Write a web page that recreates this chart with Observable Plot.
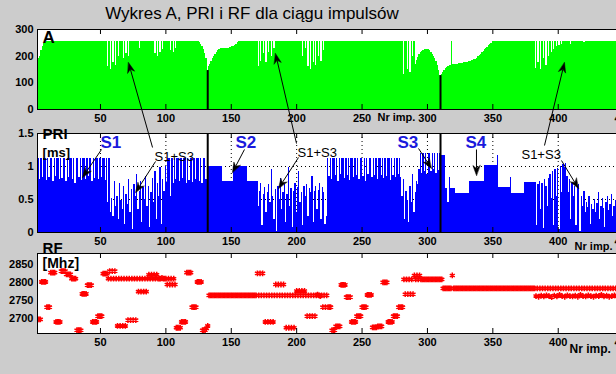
<!DOCTYPE html>
<html><head><meta charset="utf-8">
<script src="https://cdn.jsdelivr.net/npm/d3@7"></script>
<script src="https://cdn.jsdelivr.net/npm/@observablehq/plot@0.6"></script>
<style>
html,body{margin:0;padding:0;background:#cccccc;}
#fig{position:relative;width:616px;height:374px;overflow:hidden;background:#cccccc;}
#fig svg{position:absolute;left:0;display:block;max-width:none !important;}
</style>
</head><body>
<div id="fig"></div>
<script>
// ---------------- DATA ----------------
const titleText = "Wykres A, PRI i RF dla ciągu impulsów";
const pulseNo = d3.range(1, 446); // Nr imp. 1..445
const xTicks = [50,100,150,200,250,300,350,400,450];
const aTicks = [0,100,200,300];
const priTicks = [0,0.5,1,1.5];
const rfTicks = [2700,2750,2800,2850];
const boundaries = [132, 310]; // segment separators (black lines)

const amplitude = [
182,188,192,200,220,238,248,253,255,255,
255,255,255,255,255,255,255,255,255,255,
255,255,255,255,255,255,255,255,255,255,
255,255,255,255,255,255,255,255,255,255,
255,255,255,255,255,255,255,255,255,255,
255,255,255,255,255,160,255,150,255,175,
255,165,255,200,255,255,255,190,255,210,
255,200,255,255,255,255,255,255,255,230,
255,255,255,255,255,255,255,255,255,255,
255,210,255,200,255,215,255,225,255,255,
255,255,255,220,255,215,255,230,255,255,
255,255,255,255,255,255,255,255,255,255,
255,255,255,255,255,252,245,235,225,210,
190,146,160,168,180,192,200,208,215,220,
224,227,228,228,229,229,230,230,232,234,
236,238,240,245,252,255,255,255,255,255,
255,255,255,255,255,255,255,255,255,255,
160,255,180,255,210,255,175,255,215,255,
200,255,230,255,255,255,255,255,255,255,
255,255,255,255,255,255,255,255,255,255,
255,255,255,255,200,255,230,255,160,255,
150,255,175,255,165,255,200,255,180,255,
220,255,255,255,255,255,255,255,255,255,
255,255,255,255,255,255,255,255,255,255,
255,255,255,255,255,255,255,255,255,255,
255,255,255,255,255,255,255,255,255,255,
255,255,255,255,255,255,255,255,255,255,
255,255,255,255,255,255,255,255,255,255,
255,130,255,255,150,255,140,255,200,255,
170,185,195,205,212,217,221,224,226,226,
224,220,213,206,198,190,180,165,148,127,
130,140,148,153,158,162,164,166,255,167,
168,169,170,171,172,173,174,175,176,177,
178,179,180,182,184,186,189,193,197,202,
207,212,218,224,229,234,239,244,249,255,
255,255,255,255,255,255,255,255,255,255,
255,255,255,255,255,255,255,255,255,255,
255,255,255,255,255,255,255,255,255,255,
255,255,155,255,175,255,150,255,190,255,
165,255,200,255,215,255,225,255,235,255,
240,255,245,255,255,255,255,255,255,245,
255,255,255,255,255,255,255,255,255,250,
255,255,255,255,255,255,255,255,255,255,
255,255,255,255,255,255,255,255,255,255,
255,255,255,255,255
];

const pri = [
0.82,1.12,1.12,0.80,1.12,0.84,1.12,1.12,0.79,1.12,
0.83,1.12,1.12,0.78,1.12,0.85,1.12,1.12,0.80,1.12,
0.82,1.12,1.12,0.77,1.12,0.84,1.12,1.12,0.80,1.12,
0.74,1.12,1.12,0.83,1.12,0.79,1.12,1.12,0.81,1.12,
0.85,1.12,1.12,0.78,1.12,0.82,1.12,1.12,0.80,1.12,
0.84,1.12,1.12,0.79,1.12,0.45,1.12,0.30,0.52,0.25,
0.78,0.40,0.55,0.20,0.75,0.48,0.35,0.70,0.12,0.58,
0.42,0.80,0.30,0.65,0.05,0.72,0.55,0.88,0.35,0.62,
0.78,0.15,0.68,0.50,0.85,0.40,0.70,0.08,0.60,0.82,
0.45,0.92,0.20,0.75,0.55,0.98,0.12,0.80,0.62,1.00,
0.76,1.12,1.12,0.55,1.12,0.74,1.12,0.80,1.12,1.12,
0.77,1.12,0.82,1.12,1.12,0.75,1.12,0.79,1.12,1.12,
0.76,1.12,0.81,1.12,1.12,0.78,1.12,0.74,1.12,1.12,
0.80,1.12,1.00,1.00,1.00,1.00,1.00,1.00,1.00,1.00,
1.00,1.00,1.00,0.78,0.78,0.78,0.78,0.78,0.78,0.78,
0.78,1.00,1.00,1.00,1.00,1.00,1.00,1.00,1.00,1.00,
1.00,1.00,0.78,0.78,0.78,0.78,0.78,0.78,0.78,0.78,
0.40,0.62,0.75,0.10,0.58,0.68,0.30,0.60,0.72,0.45,
0.95,0.55,0.20,0.65,0.02,0.70,0.50,0.82,0.35,0.60,
0.72,0.15,0.58,0.98,0.40,0.66,0.08,0.62,0.75,0.30,
0.68,0.92,0.45,0.60,0.10,0.70,0.55,0.72,0.25,0.66,
0.60,0.85,0.15,0.62,0.70,0.35,0.64,0.75,0.20,0.68,
0.60,0.12,0.25,1.12,0.85,1.12,0.80,1.12,1.12,0.86,
1.12,0.78,1.12,0.88,1.12,1.12,0.82,1.12,0.86,1.12,
0.79,1.12,1.12,0.84,1.12,0.87,1.12,0.80,1.12,1.12,
0.85,1.12,0.78,1.12,0.88,1.12,1.12,0.83,1.12,0.86,
1.12,0.80,1.12,1.12,0.87,1.12,0.82,1.12,0.85,1.12,
1.12,0.79,1.12,0.86,1.12,0.83,1.12,0.88,1.12,0.84,
0.55,0.80,0.20,0.62,0.48,0.15,0.70,0.45,0.88,0.30,
0.60,0.78,0.72,0.95,1.19,0.90,1.19,0.93,1.19,0.88,
1.19,1.19,0.92,1.19,0.95,1.19,0.90,1.19,0.94,1.19,
1.16,1.16,1.16,0.66,0.66,0.45,0.84,0.66,0.66,0.66,
0.66,0.59,0.59,0.59,0.59,0.59,0.59,0.59,0.59,0.59,
0.59,0.59,0.77,0.77,0.77,0.77,0.77,0.77,0.77,0.77,
0.77,0.77,0.77,1.01,1.01,1.01,1.01,1.01,1.01,1.01,
1.01,1.01,1.01,1.16,0.68,0.68,0.68,0.68,0.68,0.68,
0.68,0.68,0.68,0.83,0.59,0.59,0.59,0.59,0.59,0.59,
0.59,0.59,0.59,0.59,0.76,0.76,0.76,0.76,0.76,0.76,
0.76,0.76,0.76,0.10,0.72,0.78,0.35,0.74,0.06,0.80,
0.70,0.40,0.82,0.88,0.52,0.92,0.10,0.95,0.55,0.97,
0.05,1.00,0.60,1.03,0.98,1.05,0.85,0.60,0.80,0.20,
0.75,0.55,0.70,0.10,0.68,0.72,0.02,0.55,0.40,0.62,
0.30,0.45,0.38,0.55,0.12,0.42,0.35,0.50,0.30,0.44,
0.60,0.20,0.40,0.52,0.36,0.08,0.46,0.55,0.33,0.42,
0.58,0.25,0.40,0.48,0.35
];

const rf = [
2697,2697,2697,2697,2801,2801,2801,2801,2731,2731,
2731,2827,2827,2827,2827,2690,2690,2690,2690,2831,
2831,2831,2831,2822,2822,2822,2822,2810,2810,2810,
2810,2667,2667,2667,2667,2768,2768,2768,2768,2792,
2792,2792,2792,2690,2690,2690,2690,2706,2706,2706,
2706,2824,2824,2824,2824,2810,2831,2810,2831,2810,
2831,2810,2679,2810,2679,2810,2679,2810,2679,2810,
2695,2810,2695,2810,2695,2810,2695,2810,2774,2810,
2774,2810,2774,2810,2774,2810,2821,2810,2821,2810,
2821,2810,2821,2810,2810,2810,2812,2810,2810,2810,
2794,2810,2794,2810,2794,2810,2794,2674,2674,2674,
2674,2690,2690,2690,2690,2827,2827,2827,2827,2731,
2731,2731,2731,2801,2801,2801,2801,2667,2667,2667,
2672,2679,2764,2764,2764,2764,2764,2764,2764,2764,
2764,2764,2764,2764,2764,2764,2764,2764,2764,2764,
2764,2764,2764,2764,2764,2764,2764,2764,2764,2764,
2764,2764,2764,2764,2764,2764,2764,2764,2764,2825,
2764,2825,2764,2825,2764,2690,2764,2690,2764,2690,
2764,2690,2764,2794,2764,2794,2764,2794,2764,2794,
2764,2674,2764,2674,2764,2674,2764,2674,2764,2776,
2764,2776,2764,2776,2764,2776,2764,2706,2764,2706,
2764,2706,2764,2706,2764,2766,2764,2762,2764,2731,
2764,2731,2764,2731,2731,2731,2667,2667,2667,2678,
2678,2678,2678,2793,2793,2793,2793,2759,2759,2759,
2759,2690,2690,2690,2690,2706,2706,2706,2706,2731,
2731,2731,2731,2765,2765,2765,2765,2675,2675,2675,
2675,2678,2678,2678,2678,2800,2800,2800,2800,2690,
2690,2690,2690,2706,2706,2706,2706,2731,2731,2731,
2731,2808,2767,2808,2767,2808,2767,2808,2767,2819,
2808,2819,2808,2819,2808,2808,2808,2808,2808,2808,
2808,2808,2808,2808,2808,2808,2808,2808,2808,2808,
2808,2783,2783,2783,2783,2783,2783,2783,2819,2783,
2783,2783,2783,2783,2783,2783,2783,2783,2783,2783,
2783,2783,2783,2783,2783,2783,2783,2783,2783,2783,
2783,2783,2783,2783,2783,2783,2783,2783,2783,2783,
2783,2783,2783,2783,2783,2783,2783,2783,2783,2783,
2783,2783,2783,2783,2783,2783,2783,2783,2783,2783,
2783,2783,2783,2783,2783,2783,2783,2783,2783,2783,
2783,2783,2762,2783,2760,2783,2763,2783,2761,2783,
2764,2783,2762,2783,2759,2783,2763,2783,2761,2783,
2765,2783,2762,2783,2760,2783,2764,2783,2762,2783,
2761,2783,2763,2783,2760,2783,2765,2783,2762,2783,
2761,2783,2764,2783,2762,2783,2760,2783,2763,2783,
2762,2783,2765,2783,2761,2783,2763,2783,2760,2783,
2762,2783,2764,2783,2761
];

// ---------------- ANNOTATIONS (in panel data units) ----------------
const labelsA = [
  {text: "A", x: 5.7, y: 300, dy: 1, size: 17, weight: "bold", color: "black"},
  {text: "Nr imp.", x: 261.8, y: 0, dy: 4, size: 11, weight: "bold", color: "black"}
];
const labelsPRI = [
  {text: "PRI", x: 5.7, y: 1.5, dy: -5, size: 15, weight: "bold", color: "black"},
  {text: "[ms]", x: 5.7, y: 1.288, dy: 0, size: 13, weight: "bold", color: "black"},
  {text: "S1", x: 50.0, y: 1.47, dy: 0, size: 17, weight: "bold", color: "#1a1adc"},
  {text: "S2", x: 153.2, y: 1.47, dy: 0, size: 17, weight: "bold", color: "#1a1adc"},
  {text: "S3", x: 277.1, y: 1.47, dy: 0, size: 17, weight: "bold", color: "#1a1adc"},
  {text: "S4", x: 329.1, y: 1.47, dy: 0, size: 17, weight: "bold", color: "#1a1adc"},
  {text: "S1+S3", x: 91.3, y: 1.227, dy: 0, size: 13, weight: "normal", color: "black"},
  {text: "S1+S3", x: 200.7, y: 1.288, dy: 0, size: 13, weight: "normal", color: "black"},
  {text: "S1+S3", x: 371.9, y: 1.258, dy: 0, size: 13, weight: "normal", color: "black"},
  {text: "Nr imp.", x: 412.5, y: 0, dy: 10, size: 11, weight: "bold", color: "black"}
];
const labelsRF = [
  {text: "RF", x: 5.7, y: 2880, dy: -11, size: 15, weight: "bold", color: "black"},
  {text: "[Mhz]", x: 5.7, y: 2866, dy: 0, size: 14, weight: "bold", color: "black"},
  {text: "Nr imp.", x: 408.7, y: 2658, dy: 11, size: 12, weight: "bold", color: "black"}
];
const arrows = [
  {p1: "pri", x1: 50.8, y1: 1.258, p2: "pri", x2: 36.2, y2: 0.833},
  {p1: "pri", x1: 89.8, y1: 1.288, p2: "a", x2: 71.4, y2: 176},
  {p1: "pri", x1: 92.1, y1: 1.076, p2: "pri", x2: 76.8, y2: 0.606},
  {p1: "pri", x1: 160.1, y1: 1.258, p2: "pri", x2: 150.9, y2: 0.909},
  {p1: "pri", x1: 199.9, y1: 1.348, p2: "a", x2: 183.8, y2: 210},
  {p1: "pri", x1: 201.4, y1: 1.136, p2: "pri", x2: 186.1, y2: 0.667},
  {p1: "pri", x1: 293.2, y1: 1.273, p2: "pri", x2: 303.1, y2: 0.97},
  {p1: "pri", x1: 337.5, y1: 1.258, p2: "pri", x2: 337.5, y2: 0.864},
  {p1: "pri", x1: 389.5, y1: 1.318, p2: "a", x2: 404.8, y2: 176},
  {p1: "pri", x1: 402.5, y1: 1.091, p2: "pri", x2: 415.5, y2: 0.667}
];

// ---------------- RENDER ----------------
const FONT = "'Liberation Sans', Arial, Helvetica, sans-serif";
const X_DOMAIN = [1.84, 493.5];
const W = 680;
const rows = pulseNo.map((n, i) => ({n, a: amplitude[i], pri: pri[i], rf: rf[i]}));
const fig = document.getElementById("fig");

function textMarks(labels) {
  return labels.map(l => Plot.text([l], {
    x: "x", y: "y", text: "text", dy: l.dy, fontSize: l.size, fontWeight: l.weight,
    fill: l.color, textAnchor: "start", lineAnchor: "top", fontFamily: FONT
  }));
}

function panel({top, h, yDomain, yTicks, marks}) {
  const svg = Plot.plot({
    width: W, height: 10 + h + 22,
    marginLeft: 37, marginRight: 0, marginTop: 10, marginBottom: 22,
    style: {background: "transparent", fontFamily: FONT, fontSize: "11px", fontWeight: "bold", color: "black", overflow: "visible", maxWidth: "none"},
    x: {domain: X_DOMAIN, ticks: xTicks, tickSize: 0, tickPadding: 5, label: null, tickFormat: d => String(d)},
    y: {domain: yDomain, ticks: yTicks, tickSize: 0, tickPadding: 4, label: null, tickFormat: d => String(d)},
    marks: [
      Plot.frame({fill: "white", stroke: "none"}),
      ...marks,
      Plot.ruleX(xTicks, {stroke: "black", insetBottom: h - 5}),
      Plot.ruleX(xTicks, {stroke: "black", insetTop: h - 5}),
      Plot.frame({stroke: "black", fill: "none"})
    ]
  });
  svg.style.top = (top - 10) + "px";
  svg.style.maxWidth = "none";
  svg.style.width = W + "px";
  svg.style.height = (10 + h + 22) + "px";
  fig.appendChild(svg);
  const sx = svg.scale("x"), sy = svg.scale("y");
  const fx = sx.apply ? v => sx.apply(v) : d3.scaleLinear(sx.domain, sx.range);
  const fy = sy.apply ? v => sy.apply(v) : d3.scaleLinear(sy.domain, sy.range);
  return {svg, top: top - 10, fx, fy};
}

const boundaryRows = rows.filter(d => boundaries.includes(d.n));

const pA = panel({top: 29, h: 80, yDomain: [0, 300], yTicks: aTicks, marks: [
  Plot.areaY(rows, {x: "n", y1: 0, y2: "a", curve: "step", fill: "#00ff00", shapeRendering: "crispEdges", clip: true}),
  Plot.ruleX(boundaryRows, {x: "n", y1: 0, y2: "a", stroke: "black", strokeWidth: 2}),
  ...textMarks(labelsA)
]});

const pP = panel({top: 133, h: 99, yDomain: [0, 1.5], yTicks: priTicks, marks: [
  Plot.ruleX(xTicks, {stroke: "black", strokeDasharray: "1,3"}),
  Plot.ruleY([0.5, 1], {stroke: "black", strokeDasharray: "1,3"}),
  Plot.areaY(rows, {x: "n", y1: 0, y2: "pri", curve: "step", fill: "#0000ff", shapeRendering: "crispEdges", clip: true}),
  Plot.ruleX(boundaries, {stroke: "black", strokeWidth: 2}),
  ...textMarks(labelsPRI)
]});

const pR = panel({top: 253, h: 80, yDomain: [2658, 2880], yTicks: rfTicks, marks: [
  Plot.dot(rows, {x: "n", y: "rf", symbol: "asterisk", r: 2.7, stroke: "#ff0000", strokeWidth: 1.5, clip: true}),
  ...textMarks(labelsRF)
]});

const panels = {a: pA, pri: pP, rf: pR};
function px(p, x, y) { const P = panels[p]; return [P.fx(x), P.fy(y) + P.top]; }

const shafts = [], heads = [];
arrows.forEach((a, i) => {
  const [sx, sy] = px(a.p1, a.x1, a.y1);
  const [tx, ty] = px(a.p2, a.x2, a.y2);
  const len = Math.hypot(tx - sx, ty - sy), ux = (tx - sx) / len, uy = (ty - sy) / len;
  const nx = -uy, ny = ux, L = 10, Wd = 3.6, notch = 3;
  const bx = tx - L * ux, by = ty - L * uy;
  const mx = tx - (L - notch) * ux, my = ty - (L - notch) * uy;
  shafts.push({x1: sx, y1: sy, x2: mx, y2: my});
  heads.push({id: i, x: tx, y: ty}, {id: i, x: bx + Wd * nx, y: by + Wd * ny}, {id: i, x: mx, y: my}, {id: i, x: bx - Wd * nx, y: by - Wd * ny});
});

const overlay = Plot.plot({
  width: 616, height: 374, margin: 0,
  style: {background: "transparent", fontFamily: FONT, overflow: "visible", maxWidth: "none"},
  x: {domain: [0, 616], range: [0, 616], axis: null},
  y: {domain: [0, 374], range: [0, 374], axis: null},
  marks: [
    Plot.link(shafts, {x1: "x1", y1: "y1", x2: "x2", y2: "y2", stroke: "black", strokeWidth: 1}),
    Plot.line(heads, {x: "x", y: "y", z: "id", fill: "black", stroke: "black", strokeWidth: 0.5, curve: "linear-closed"}),
    Plot.text([{t: titleText}], {x: 251.5, y: 18.5, text: "t", textAnchor: "middle", lineAnchor: "bottom", fontSize: 17, fill: "black", fontFamily: FONT})
  ]
});
overlay.style.top = "0px";
overlay.style.pointerEvents = "none";
fig.appendChild(overlay);
</script>
</body></html>
